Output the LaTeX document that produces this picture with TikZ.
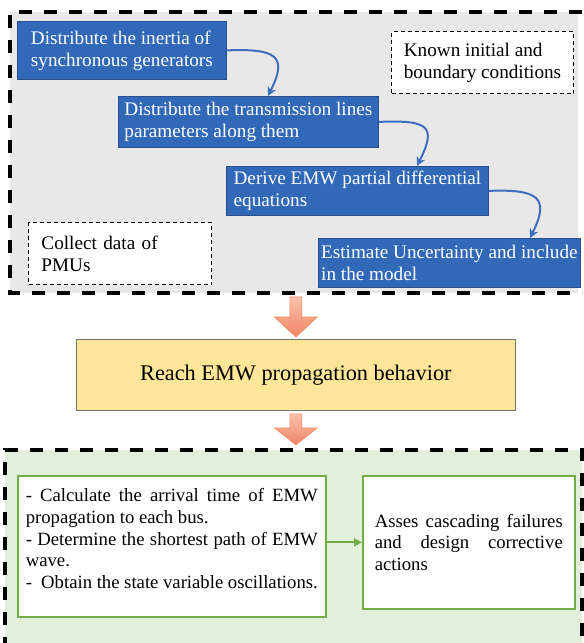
\documentclass[tikz,border=0pt]{standalone}
\usepackage{fontspec}
\setmainfont{Liberation Serif}
\usepackage{xcolor}
\usetikzlibrary{calc, positioning, arrows.meta}

\definecolor{stepblue}{RGB}{50,104,184}
\definecolor{stepedge}{RGB}{40,80,145}
\definecolor{linkblue}{RGB}{62,110,192}
\definecolor{panelgray}{RGB}{232,232,232}
\definecolor{panelgreen}{RGB}{226,239,218}
\definecolor{boxgreen}{RGB}{112,173,71}
\definecolor{reachyellow}{RGB}{255,230,153}
\definecolor{arrowtop}{RGB}{249,192,168}
\definecolor{arrowbot}{RGB}{242,132,102}

\begin{document}
\begin{tikzpicture}[x=1pt, y=-1pt,
	stepbox/.style={draw=stepedge, line width=0.8pt, fill=stepblue, text=white, align=left,
		inner sep=0pt, anchor=north west, font=\fontsize{19.2}{21.9}\selectfont},
	notebox/.style={draw=black, fill=white, line width=1pt, dash pattern=on 4pt off 3pt,
		align=left, inner sep=0pt, anchor=north west, font=\fontsize{19.2}{21.9}\selectfont},
	greenbox/.style={draw=boxgreen, fill=white, line width=1.6pt, align=justify,
		anchor=north west, font=\fontsize{18.7}{21.7}\selectfont},
	link/.style={draw=linkblue, line width=2pt, -{Stealth[length=9pt, width=9pt]}},
	panel/.style={line width=3.5pt, dash pattern=on 13pt off 12pt},
	blockarrow/.style={top color=arrowtop, bottom color=arrowbot, draw=arrowbot, line width=0.6pt}]

	\useasboundingbox (0,0) rectangle (584,643);

	% panels %
	\fill[panelgray] (10,12) rectangle (578,293);
	\draw[panel] (582,12) -- (10,12) -- (10,293) -- (582,293);
	\fill[panelgreen] (5,450) rectangle (582,650);
	\draw[panel] (5,650) -- (5,450) -- (582,450) -- (582,650);

	% nodes - modelling steps %
	\node[stepbox, minimum width=209pt, minimum height=58pt] (inertia) at (17,21) {Distribute the inertia of\\synchronous generators};
	\node[stepbox, minimum width=260pt, minimum height=51pt] (lines) at (118,96) {Distribute the transmission lines\\parameters along them};
	\node[stepbox, minimum width=262pt, minimum height=49pt] (pde) at (226,166) {Derive EMW partial differential\\equations};
	\node[stepbox, minimum width=262pt, minimum height=49pt] (uncert) at (318,238) {Estimate Uncertainty and include\\in the model};
	\node[notebox, minimum width=182pt, minimum height=62pt] (known) at (391,31) {Known initial and\\boundary conditions};
	\node[notebox, text width=157pt, inner xsep=13pt, minimum height=62pt] (pmu) at (28,222) {Collect data of\\PMUs};

	% nodes - result and analysis %
	\node[draw=black!55, fill=reachyellow, line width=0.8pt, inner sep=0pt, anchor=north west,
		minimum width=439pt, minimum height=71pt, font=\fontsize{22.3}{26}\selectfont] (reach) at (76,339) {Reach EMW propagation behavior};
	\node[greenbox, text width=292pt, inner xsep=8pt, inner ysep=0pt, text height=26pt, text depth=115pt] (calc) at (17,475)
		{- Calculate the arrival time of EMW\linebreak propagation to each bus.\\- Determine the shortest path of EMW\linebreak wave.\\-\ \ Obtain the state variable oscillations.};
	\node[greenbox, text width=188pt, inner xsep=12pt, minimum height=133pt] (asses) at (362,475)
		{Asses cascading failures\linebreak and design corrective\linebreak actions};

	% edges %
	\draw[link] (inertia.east) .. controls +(50,-2) and +(20,-40) .. ([xshift=150pt]lines.north west);
	\draw[link] (lines.east) .. controls +(50,-2) and +(20,-40) .. ([xshift=191pt]pde.north west);
	\draw[link] (pde.east) .. controls +(50,-2) and +(20,-40) .. ([xshift=212pt]uncert.north west);
	\draw[boxgreen, line width=1.8pt, -{Triangle[length=8pt, width=8pt]}] (calc.east |- asses.west) -- (asses.west);

	% block arrows %
	\path[blockarrow] ([yshift=2pt]reach.north) -- ++(-21.5,-20) -- ++(15.5,0) -- ++(0,-20) -- ++(12,0) -- ++(0,20) -- ++(15.5,0) -- cycle;
	\path[blockarrow] ([yshift=-3pt]reach.south) ++(-6,0) -- ++(0,14) -- ++(-15.5,0) -- ++(21.5,17) -- ++(21.5,-17) -- ++(-15.5,0) -- ++(0,-14) -- cycle;

\end{tikzpicture}
\end{document}
